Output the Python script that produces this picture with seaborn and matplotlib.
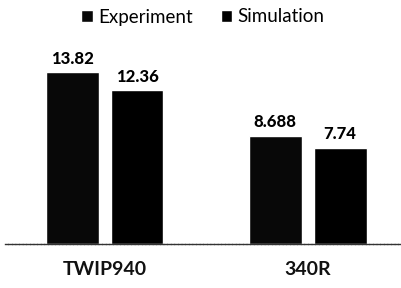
import matplotlib
matplotlib.use("Agg")
import matplotlib.pyplot as plt
import seaborn as sns
import pandas as pd

categories = ["TWIP940", "340R"]
series_names = ["Experiment", "Simulation"]
experiment = [13.82, 8.688]
simulation = [12.36, 7.74]
value_labels = {"Experiment": ["13.82", "8.688"], "Simulation": ["12.36", "7.74"]}

df = pd.DataFrame({
    "category": categories * 2,
    "series": [series_names[0]] * 2 + [series_names[1]] * 2,
    "value": experiment + simulation,
})

sns.set_theme(style="white")
plt.rcParams['font.family'] = ['Lato', 'DejaVu Sans']

fig = plt.figure(figsize=(4.01, 2.88), dpi=100)
ax = fig.add_axes([5/401, 1 - 244/288, 395/401, 199/288])

sns.barplot(data=df, x="category", y="value", hue="series", order=categories,
            hue_order=series_names, palette=["#080808", "#000000"],
            width=0.64, gap=0.185, ax=ax, legend=True, saturation=1)

for container, name in zip(ax.containers, series_names):
    ax.bar_label(container, labels=value_labels[name], padding=4,
                 fontsize=12, fontweight="black", color="#000000")

ax.set_ylim(0, 16)
ax.set_xlim(-0.49, 1.455)
ax.set_xlabel("")
ax.set_ylabel("")
ax.set_yticks([])
ax.tick_params(axis="x", length=0, pad=12, labelsize=14)
for lab in ax.get_xticklabels():
    lab.set_fontweight("bold")
    lab.set_color("#111111")
for s in ["top", "left", "right"]:
    ax.spines[s].set_visible(False)
ax.spines["bottom"].set_color("#333333")
ax.spines["bottom"].set_linewidth(1.0)
ax.spines["bottom"].set_linestyle((0, (2, 0.6)))

leg = ax.legend(loc="center", bbox_to_anchor=(203/401, 1 - 17/288),
                bbox_transform=fig.transFigure, ncol=2, frameon=False,
                fontsize=13.5, handlelength=0.6, handleheight=0.6,
                handletextpad=0.3, columnspacing=1.5)
for t in leg.get_texts():
    t.set_color("#000000")

fig.savefig("out.png", dpi=100)
